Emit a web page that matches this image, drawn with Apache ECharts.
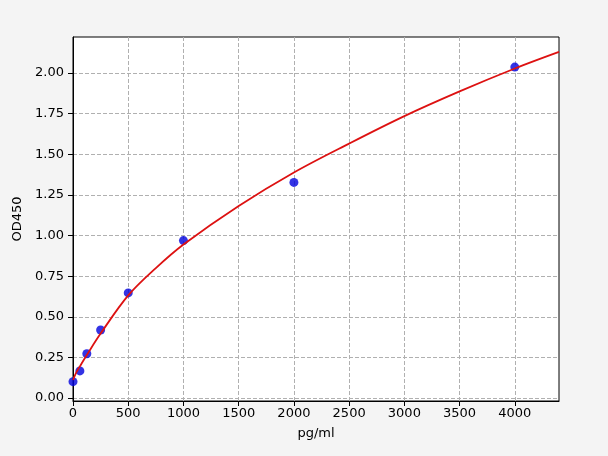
<!DOCTYPE html>
<html>
<head>
<meta charset="utf-8">
<script src="https://cdn.jsdelivr.net/npm/echarts@6.0.0/dist/echarts.min.js"></script>
<style>
html,body{margin:0;padding:0;background:#f4f4f4;}
#c{width:608px;height:456px;}
</style>
</head>
<body>
<div id="c"></div>
<script>
// Measured standards
var concentrations = [0, 62.5, 125, 250, 500, 1000, 2000, 4000];
var odValues = [0.101, 0.167, 0.273, 0.419, 0.647, 0.969, 1.327, 2.037];
// Fitted curve
var curveX = [0, 30, 62.5, 125, 250, 500, 750, 1000, 1500, 2000, 2500, 3000, 3500, 4000, 4400];
var curveY = [0.111, 0.158, 0.195, 0.265, 0.397, 0.632, 0.80, 0.945, 1.182, 1.388, 1.566, 1.735, 1.887, 2.028, 2.130];
// Tick labels
var xTicks = [0, 500, 1000, 1500, 2000, 2500, 3000, 3500, 4000];
var yTicks = [0, 0.25, 0.5, 0.75, 1.0, 1.25, 1.5, 1.75, 2.0];

var font = 'DejaVu Sans';
var chart = echarts.init(document.getElementById('c'), null, {renderer: 'canvas'});
chart.setOption({
  animation: false,
  backgroundColor: '#f4f4f4',
  grid: {left: 73, right: 49, top: 37, bottom: 55, show: true, backgroundColor: '#ffffff', borderColor: '#000000', borderWidth: 1},
  xAxis: {
    type: 'value', min: 0, max: 4400,
    name: 'pg/ml', nameLocation: 'middle', nameGap: 26,
    nameTextStyle: {fontFamily: font, fontSize: 13, color: '#000'},
    axisLine: {show: true, onZero: false, lineStyle: {color: '#000', width: 1}},
    axisTick: {show: true, length: 5, customValues: xTicks, lineStyle: {color: '#000'}},
    axisLabel: {customValues: xTicks, margin: 6, fontFamily: font, fontSize: 13, color: '#000', formatter: function(v){return String(v);}},
    splitLine: {show: true, lineStyle: {color: '#b0b0b0', type: [4, 2], width: 1}}
  },
  yAxis: {
    type: 'value', min: -0.018, max: 2.222,
    name: 'OD450', nameLocation: 'middle', nameGap: 42,
    nameTextStyle: {fontFamily: font, fontSize: 13, color: '#000'},
    axisLine: {show: true, onZero: false, lineStyle: {color: '#000', width: 1}},
    axisTick: {show: true, length: 5, customValues: yTicks, lineStyle: {color: '#000'}},
    axisLabel: {customValues: yTicks, margin: 9, fontFamily: font, fontSize: 13, color: '#000', formatter: function(v){return v.toFixed(2);}},
    splitLine: {show: true, lineStyle: {color: '#b0b0b0', type: [4, 2], width: 1}}
  },
  series: [
    {
      type: 'scatter', z: 2,
      data: concentrations.map(function(x, i){return [x, odValues[i]];}),
      symbolSize: 9,
      itemStyle: {color: '#0000dd'}
    },
    {
      type: 'line', z: 3, smooth: 0.35, showSymbol: false,
      data: curveX.map(function(x, i){return [x, curveY[i]];}),
      lineStyle: {color: '#dd1111', width: 1.8}
    }
  ]
});
</script>
</body>
</html>
